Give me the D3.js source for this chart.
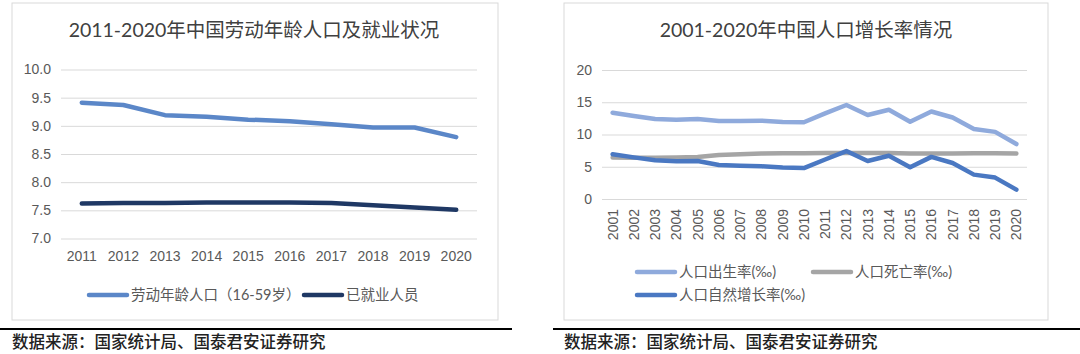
<!DOCTYPE html>
<html>
<head>
<meta charset="utf-8">
<script src="https://cdn.jsdelivr.net/npm/d3@7"></script>
<style>
  body { margin: 0; background: #fff; }
  svg { display: block; font-family: "Lato", "Noto Sans CJK SC", sans-serif; }
  .grid line { stroke: #d9d9d9; }
  .tick text { fill: #595959; }
</style>
</head>
<body>
<svg id="chart" width="1080" height="354"></svg>
<script>
"use strict";

/* Left chart: labour-age population and employment (100 million) */
const laborYears = ["2011", "2012", "2013", "2014", "2015", "2016", "2017", "2018", "2019", "2020"];
const laborPop = [9.41, 9.37, 9.19, 9.16, 9.11, 9.08, 9.03, 8.97, 8.97, 8.80];
const employed = [7.62, 7.63, 7.63, 7.64, 7.64, 7.64, 7.63, 7.59, 7.55, 7.51];
const laborTicks = [7.0, 7.5, 8.0, 8.5, 9.0, 9.5, 10.0];

/* Right chart: population growth rates (per mille) */
const rateYears = ["2001", "2002", "2003", "2004", "2005", "2006", "2007", "2008", "2009", "2010",
                   "2011", "2012", "2013", "2014", "2015", "2016", "2017", "2018", "2019", "2020"];
const birthRate = [13.38, 12.86, 12.41, 12.29, 12.40, 12.09, 12.10, 12.14, 11.95, 11.90,
                   13.27, 14.57, 13.03, 13.83, 11.99, 13.57, 12.64, 10.86, 10.41, 8.52];
const deathRate = [6.43, 6.41, 6.40, 6.42, 6.51, 6.81, 6.93, 7.06, 7.08, 7.11,
                   7.14, 7.13, 7.13, 7.12, 7.07, 7.04, 7.06, 7.08, 7.09, 7.07];
const naturalRate = [6.95, 6.45, 6.01, 5.87, 5.89, 5.28, 5.17, 5.08, 4.87, 4.79,
                     6.13, 7.43, 5.90, 6.71, 4.93, 6.53, 5.58, 3.78, 3.32, 1.45];
const rateTicks = [0, 5, 10, 15, 20];

const sourceText = "数据来源：国家统计局、国泰君安证券研究";

const svg = d3.select("#chart");

function drawPanel(opt) {
  let g = svg.append("g");

  /* Frame */
  g.append("rect")
      .attr("x", opt.box[0]).attr("y", opt.box[1])
      .attr("width", opt.box[2]).attr("height", opt.box[3])
      .attr("fill", "#fff").attr("stroke", "#d9d9d9").attr("stroke-width", 1);

  /* Title */
  g.append("text")
      .attr("x", opt.titleX).attr("y", 37)
      .attr("text-anchor", "middle")
      .attr("font-size", 19.5)
      .attr("fill", "#404040")
      .text(opt.title);

  let x = d3.scaleBand().domain(opt.years).range(opt.xRange);
  let y = d3.scaleLinear().domain(opt.yDomain).range(opt.yRange);

  /* Gridlines + y labels */
  g.append("g")
      .attr("class", "grid")
      .attr("transform", "translate(" + opt.xRange[0] + ",0)")
      .call(d3.axisLeft(y).tickValues(opt.ticks)
          .tickSize(-(opt.xRange[1] - opt.xRange[0]))
          .tickPadding(10)
          .tickFormat(opt.yFormat))
      .call(ax => ax.select(".domain").remove())
      .call(ax => ax.selectAll("text").attr("font-size", 14).attr("fill", "#595959"));

  /* X labels */
  let xa = g.append("g")
      .attr("transform", "translate(0," + opt.yRange[0] + ")")
      .call(d3.axisBottom(x).tickSize(0).tickPadding(opt.rotate ? 10 : 13))
      .call(ax => ax.select(".domain").remove());
  xa.selectAll("text").attr("font-size", 14).attr("fill", "#595959");
  if (opt.rotate) {
    xa.selectAll("text")
        .attr("transform", "rotate(-90)")
        .attr("text-anchor", "end")
        .attr("dx", "-10")
        .attr("dy", "0.35em")
        .attr("y", 0);
  }

  /* Lines */
  let line = d3.line()
      .x((d, i) => x(opt.years[i]) + x.bandwidth() / 2)
      .y(d => y(d));

  opt.series.forEach(s => {
    g.append("path")
        .datum(s.values)
        .attr("fill", "none")
        .attr("stroke", s.color)
        .attr("stroke-width", 4.5)
        .attr("stroke-linejoin", "round")
        .attr("stroke-linecap", "round")
        .attr("d", line);
  });

  /* Legend */
  opt.series.forEach(s => {
    let lg = g.append("g").attr("transform", "translate(" + s.legend[0] + "," + s.legend[1] + ")");
    lg.append("line")
        .attr("x1", 0).attr("x2", 38)
        .attr("stroke", s.color).attr("stroke-width", 4.5)
        .attr("stroke-linecap", "round");
    lg.append("text")
        .attr("x", 42).attr("dy", "0.36em")
        .attr("font-size", 14.5)
        .attr("fill", "#595959")
        .text(s.name);
  });

  /* Source rule and text */
  svg.append("line")
      .attr("x1", opt.rule[0]).attr("x2", opt.rule[1])
      .attr("y1", 329).attr("y2", 329)
      .attr("stroke", "#000").attr("stroke-width", 2);
  svg.append("text")
      .attr("x", opt.box[0]).attr("y", 348)
      .attr("font-family", "'Noto Sans CJK SC', sans-serif")
      .attr("font-size", 16.5)
      .attr("font-weight", 500)
      .attr("fill", "#222")
      .text(sourceText);
}

drawPanel({
  box: [12, 3, 486, 317],
  title: "2011-2020年中国劳动年龄人口及就业状况",
  titleX: 254,
  years: laborYears,
  xRange: [61, 477],
  yDomain: [7, 10],
  yRange: [238.5, 69.5],
  ticks: laborTicks,
  yFormat: d3.format(".1f"),
  rotate: false,
  rule: [0, 512],
  series: [
    {name: "劳动年龄人口（16-59岁）", values: laborPop, color: "#5b87c8", legend: [89, 295]},
    {name: "已就业人员", values: employed, color: "#1f3864", legend: [304, 295]}
  ]
});

drawPanel({
  box: [564, 3, 484, 317],
  title: "2001-2020年中国人口增长率情况",
  titleX: 806,
  years: rateYears,
  xRange: [602, 1027],
  yDomain: [0, 20],
  yRange: [199, 70],
  ticks: rateTicks,
  yFormat: d3.format("d"),
  rotate: true,
  rule: [553, 1080],
  series: [
    {name: "人口出生率(‰)", values: birthRate, color: "#8faadc", legend: [637, 272]},
    {name: "人口死亡率(‰)", values: deathRate, color: "#a5a5a5", legend: [813, 272]},
    {name: "人口自然增长率(‰)", values: naturalRate, color: "#4a78c2", legend: [637, 295]}
  ]
});
</script>
</body>
</html>
